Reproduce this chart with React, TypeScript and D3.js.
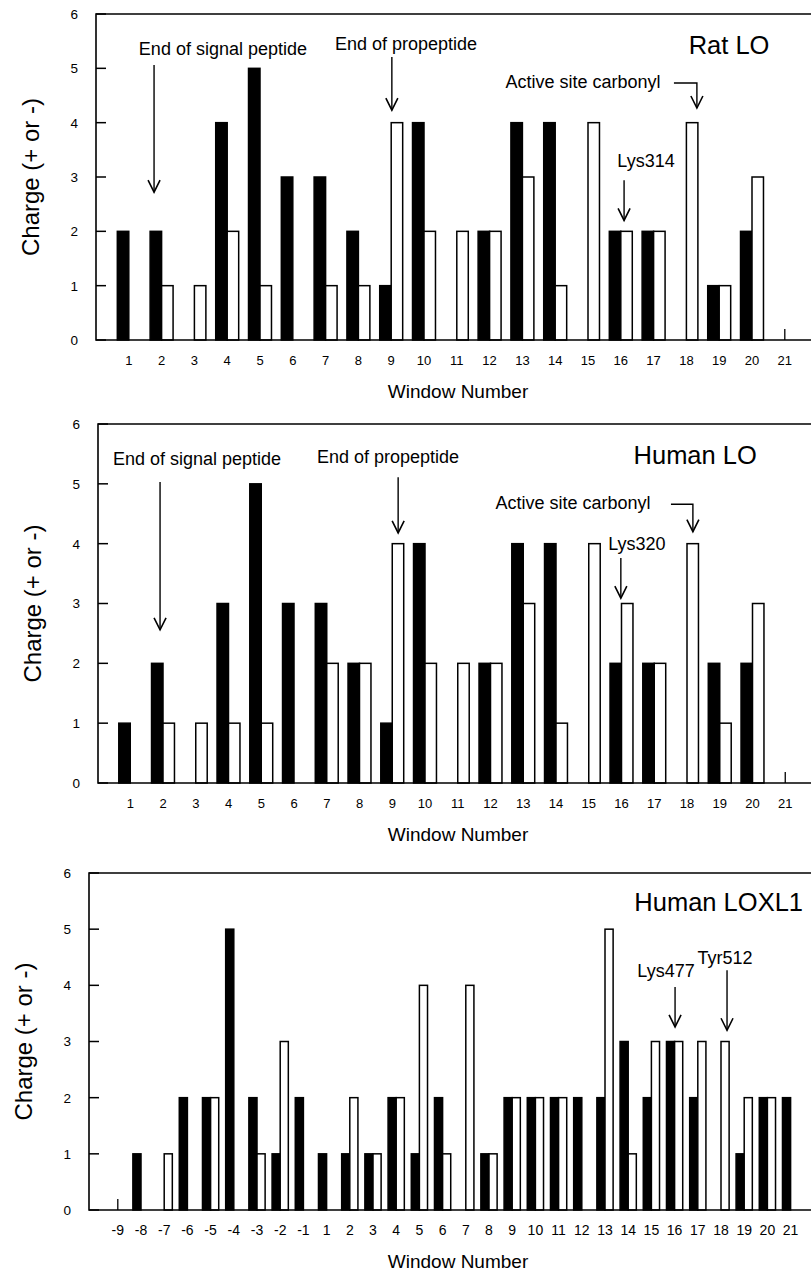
import React, { useEffect, useRef } from "react";
import * as d3 from "d3";

// Charge per window: solid (black) and open (white) bars, three panels

const loWindows = ["1","2","3","4","5","6","7","8","9","10","11","12","13","14","15","16","17","18","19","20","21"];
const ratSolid = [2,2,0,4,5,3,3,2,1,4,0,2,4,4,0,2,2,0,1,2,0];
const ratOpen  = [0,1,1,2,1,0,1,1,4,2,2,2,3,1,4,2,2,4,1,3,0];
const humanSolid = [1,2,0,3,5,3,3,2,1,4,0,2,4,4,0,2,2,0,2,2,0];
const humanOpen  = [0,1,1,1,1,0,2,2,4,2,2,2,3,1,4,3,2,4,1,3,0];

const loxl1Windows = ["-9","-8","-7","-6","-5","-4","-3","-2","-1","1","2","3","4","5","6","7","8","9","10","11","12","13","14","15","16","17","18","19","20","21"];
const loxl1Solid = [0,1,0,2,2,5,2,1,2,1,1,1,2,1,2,0,1,2,2,2,2,2,3,2,3,2,0,1,2,2];
const loxl1Open  = [0,0,1,0,2,0,1,3,0,0,2,1,2,4,1,4,1,2,2,2,0,5,1,3,3,3,3,2,2,0];

const yTicks = [0,1,2,3,4,5,6];

// windows with only a short stub on the axis
const ratStubs = ["21"];
const humanStubs = ["21"];
const loxl1Stubs = ["-9"];

const font = "'Liberation Sans', Arial, Helvetica, sans-serif";

const panels = [
  {
    labels: loWindows, solid: ratSolid, open: ratOpen, stubs: ratStubs,
    left: 96, first: 128.8, last: 784.8, top: 14, bottom: 340, tickSize: 13,
    title: "Rat LO", titleAt: [18.3, 5.43],
    notes: [
      { text: "End of signal peptide", at: [2.87, 5.37], arrow: [[0.77, 5.06], [0.77, 2.72]] },
      { text: "End of propeptide", at: [8.45, 5.45], arrow: [[8.02, 5.21], [8.02, 4.23]] },
      { text: "Active site carbonyl", at: [13.85, 4.75], arrow: [[16.62, 4.73], [17.32, 4.73], [17.32, 4.27]] },
      { text: "Lys314", at: [15.77, 3.31], arrow: [[15.1, 2.94], [15.1, 2.2]] },
    ],
  },
  {
    labels: loWindows, solid: humanSolid, open: humanOpen, stubs: humanStubs,
    left: 98, first: 130.25, last: 785.25, top: 424, bottom: 783, tickSize: 13,
    title: "Human LO", titleAt: [17.25, 5.48],
    notes: [
      { text: "End of signal peptide", at: [2.04, 5.42], arrow: [[0.91, 5.03], [0.91, 2.56]] },
      { text: "End of propeptide", at: [7.87, 5.45], arrow: [[8.18, 5.11], [8.18, 4.18]] },
      { text: "Active site carbonyl", at: [13.52, 4.68], arrow: [[16.51, 4.66], [17.18, 4.66], [17.18, 4.2]] },
      { text: "Lys320", at: [15.47, 4.01], arrow: [[14.98, 3.76], [14.98, 3.09]] },
    ],
  },
  {
    labels: loxl1Windows, solid: loxl1Solid, open: loxl1Open, stubs: loxl1Stubs,
    left: 89, first: 117.8, last: 790.6, top: 873, bottom: 1210, tickSize: 14,
    title: "Human LOXL1", titleAt: [25.9, 5.48],
    notes: [
      { text: "Lys477", at: [23.63, 4.27], arrow: [[24.02, 3.97], [24.02, 3.26]] },
      { text: "Tyr512", at: [26.17, 4.5], arrow: [[26.26, 4.27], [26.26, 3.2]] },
    ],
  },
];

function drawPanel(svg: any, p: any) {
  const n = p.labels.length;
  const x = d3.scaleLinear().domain([0, n - 1]).range([p.first, p.last]);
  const y = d3.scaleLinear().domain([0, 6]).range([p.bottom, p.top]);
  const step = x(1) - x(0);
  const bw = step * 0.35;
  const right = 830;

  const g = svg.append("g").attr("font-family", font).attr("fill", "#000");

  // bars
  const rows = p.labels.map((lab: string, i: number) => ({ lab, i, s: p.solid[i], o: p.open[i] }));
  g.selectAll(".solid").data(rows.filter((d: any) => d.s > 0)).join("rect")
    .attr("x", (d: any) => x(d.i) - bw).attr("y", (d: any) => y(d.s))
    .attr("width", bw).attr("height", (d: any) => y(0) - y(d.s))
    .attr("fill", "#000").attr("stroke", "#000").attr("stroke-width", 1.5);
  g.selectAll(".open").data(rows.filter((d: any) => d.o > 0)).join("rect")
    .attr("x", (d: any) => x(d.i)).attr("y", (d: any) => y(d.o))
    .attr("width", bw).attr("height", (d: any) => y(0) - y(d.o))
    .attr("fill", "#fff").attr("stroke", "#000").attr("stroke-width", 1.5);

  // stubs
  g.selectAll(".stub").data(p.stubs).join("line")
    .attr("x1", (d: string) => x(p.labels.indexOf(d))).attr("x2", (d: string) => x(p.labels.indexOf(d)))
    .attr("y1", y(0)).attr("y2", y(0) - 11)
    .attr("stroke", "#000").attr("stroke-width", 1.3);

  // frame
  g.append("path")
    .attr("d", `M${right},${p.top}H${p.left}V${p.bottom}H${right}`)
    .attr("fill", "none").attr("stroke", "#000").attr("stroke-width", 1.6);

  // y ticks (inward) and labels
  g.selectAll(".yt").data(yTicks).join("line")
    .attr("x1", p.left).attr("x2", p.left + 10)
    .attr("y1", (d: number) => y(d)).attr("y2", (d: number) => y(d))
    .attr("stroke", "#000").attr("stroke-width", 1.5);
  g.selectAll(".yl").data(yTicks).join("text")
    .attr("x", p.left - 18).attr("y", (d: number) => y(d)).attr("dy", "0.36em")
    .attr("text-anchor", "end").attr("font-size", 13.5).text((d: number) => d);

  // x tick labels
  g.selectAll(".xl").data(p.labels).join("text")
    .attr("x", (d: string, i: number) => x(i)).attr("y", y(0) + 20).attr("dy", "0.36em")
    .attr("text-anchor", "middle").attr("font-size", p.tickSize).text((d: string) => d);

  g.append("text").attr("x", 458).attr("y", y(0) + 58)
    .attr("text-anchor", "middle").attr("font-size", 19).text("Window Number");

  g.append("text")
    .attr("transform", `translate(${p.left - 66},${(p.top + p.bottom) / 2}) rotate(-90)`)
    .attr("dy", "0.36em").attr("text-anchor", "middle").attr("font-size", 24)
    .text("Charge (+ or -)");

  g.append("text").attr("x", x(p.titleAt[0])).attr("y", y(p.titleAt[1])).attr("dy", "0.36em")
    .attr("text-anchor", "middle").attr("font-size", 25.5).text(p.title);

  // annotations with arrows
  p.notes.forEach((a: any) => {
    g.append("text").attr("x", x(a.at[0])).attr("y", y(a.at[1])).attr("dy", "0.36em")
      .attr("text-anchor", "middle").attr("font-size", 18).text(a.text);
    const pts = a.arrow.map((q: number[]) => [x(q[0]), y(q[1])]);
    g.append("path").attr("d", d3.line()(pts))
      .attr("fill", "none").attr("stroke", "#000").attr("stroke-width", 1.4);
    const tip = pts[pts.length - 1];
    g.append("path")
      .attr("d", `M${tip[0] - 6},${tip[1] - 12}L${tip[0]},${tip[1]}L${tip[0] + 6},${tip[1] - 12}`)
      .attr("fill", "none").attr("stroke", "#000").attr("stroke-width", 1.6);
  });
}

export default function App() {
  const ref = useRef<SVGSVGElement>(null);

  useEffect(() => {
    const svg = d3.select(ref.current);
    svg.selectAll("*").remove();
    panels.forEach((p) => drawPanel(svg, p));
  }, []);

  return (
    <div style={{ position: "absolute", left: 0, top: 0 }}>
      <svg ref={ref} width={811} height={1272} style={{ display: "block", background: "#fff" }} />
    </div>
  );
}
